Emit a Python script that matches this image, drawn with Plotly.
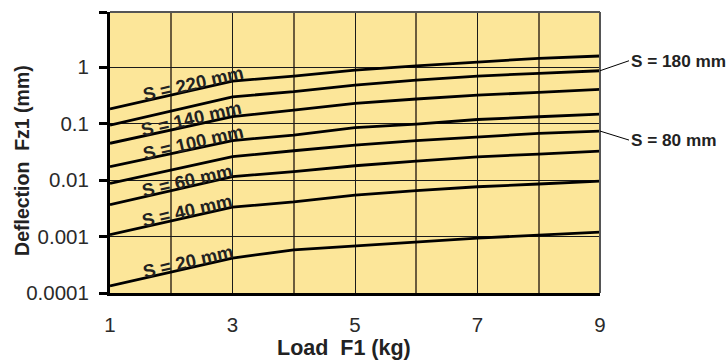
import numpy as np
import plotly.graph_objects as go

# ---- data ----
load_kg = [1, 3, 4, 5, 6, 7, 8, 9]
spans = ["220", "180", "140", "100", "80", "60", "40", "20"]
defl_220 = [0.181, 0.565, 0.694, 0.885, 1.05, 1.24, 1.43, 1.57]
defl_180 = [0.094, 0.298, 0.366, 0.48, 0.589, 0.694, 0.773, 0.861]
defl_140 = [0.0447, 0.133, 0.173, 0.228, 0.272, 0.319, 0.356, 0.403]
defl_100 = [0.0172, 0.050, 0.0625, 0.0844, 0.098, 0.118, 0.132, 0.147]
defl_80 = [0.00875, 0.026, 0.033, 0.0416, 0.0497, 0.0583, 0.0671, 0.0736]
defl_60 = [0.00366, 0.0115, 0.0141, 0.0179, 0.0217, 0.0258, 0.0288, 0.0326]
defl_40 = [0.00108, 0.0033, 0.0041, 0.0054, 0.0065, 0.0076, 0.0085, 0.0096]
defl_20 = [0.000133, 0.000416, 0.00058, 0.00068, 0.0008, 0.00094, 0.00106, 0.0012]
series = dict(zip(spans, [defl_220, defl_180, defl_140, defl_100,
                          defl_80, defl_60, defl_40, defl_20]))

x_ticks = [1, 3, 5, 7, 9]
x_minor = [2, 4, 6, 8]
y_ticks = [0.0001, 0.001, 0.01, 0.1, 1]
y_ticktext = ["0.0001", "0.001", "0.01", "0.1", "1"]
y_top_log = 0.975

inline_labels = ["220", "140", "100", "60", "40", "20"]
right_labels = ["180", "80"]

FONT = "Liberation Sans, Arial, Helvetica, sans-serif"
BG = "#FCE699"

fig = go.Figure()
for s in spans:
    fig.add_trace(go.Scatter(x=load_kg, y=series[s], mode="lines",
                             line=dict(color="black", width=2.8),
                             showlegend=False, hoverinfo="skip"))

# inline rotated labels sitting on their curves
lab_x = {"220": 2.35, "140": 2.33, "100": 2.35, "60": 2.26, "40": 2.26, "20": 2.27}
for s in inline_labels:
    xv = lab_x[s]
    v = series[s]
    t = (xv - load_kg[0]) / (load_kg[1] - load_kg[0])
    yl = 10 ** (np.log10(v[0]) + t * (np.log10(v[1]) - np.log10(v[0])))
    fig.add_annotation(x=xv, y=np.log10(yl), text=f"S = {s} mm", showarrow=False,
                       textangle=-13, yshift=7,
                       font=dict(family=FONT, size=18.5, color="#222", weight="bold"))

# right callout labels
offs = {"180": -10, "80": 9}
for s in right_labels:
    fig.add_annotation(x=load_kg[-1], y=np.log10(series[s][-1]), text=f"S = {s} mm",
                       showarrow=True, arrowhead=0, arrowwidth=1, arrowcolor="black",
                       ax=29, ay=offs[s], xanchor="left", yanchor="middle",
                       font=dict(family=FONT, size=17.2, color="#222", weight="bold"))

# axis titles
fig.add_annotation(xref="paper", yref="paper", x=0.478, y=0, yshift=-55,
                   text="Load  F1 (kg)", showarrow=False, yanchor="middle",
                   font=dict(family=FONT, size=21.5, color="#222", weight="bold"))
fig.add_annotation(xref="paper", yref="paper", x=0, xshift=-88, y=0.47,
                   text="Deflection  Fz1 (mm)", showarrow=False, textangle=-90,
                   xanchor="center", yanchor="middle",
                   font=dict(family=FONT, size=19.5, color="#222", weight="bold"))

# top and right frame lines
fig.add_shape(type="line", xref="paper", yref="paper", x0=0, x1=1, y0=1, y1=1,
              line=dict(color="#555", width=2))
fig.add_shape(type="line", xref="paper", yref="paper", x0=1, x1=1, y0=0, y1=1,
              line=dict(color="#555", width=2))

fig.update_xaxes(range=[1, 9], tickvals=x_ticks, ticks="", showgrid=True,
                 gridcolor="#1a1a1a", gridwidth=1,
                 minor=dict(tickvals=x_minor, showgrid=True, gridcolor="#6b5c3c", gridwidth=1.5),
                 showline=True, linecolor="black", linewidth=3,
                 ticklabelstandoff=11, zeroline=False, automargin=False,
                 tickfont=dict(family=FONT, size=20.5, color="#2a2a2a"))
fig.update_yaxes(type="log", range=[-4, y_top_log],
                 tickvals=y_ticks + [10 ** y_top_log], ticktext=y_ticktext + [""],
                 ticks="outside", ticklen=8, tickwidth=3, tickcolor="black",
                 showgrid=True, gridcolor="#1a1a1a", gridwidth=1,
                 showline=True, linecolor="black", linewidth=3,
                 ticklabelstandoff=6, zeroline=False, automargin=False,
                 tickfont=dict(family=FONT, size=20.5, color="#2a2a2a"))

fig.update_layout(width=728, height=363, margin=dict(l=110, r=128, t=12, b=70),
                  plot_bgcolor=BG, paper_bgcolor="white")

# remove the default 8px body margin so the figure fills the window exactly
fig.write_html("out.html", config={"displayModeBar": False},
               post_script="document.body.style.margin='0';document.body.style.overflow='hidden';")
